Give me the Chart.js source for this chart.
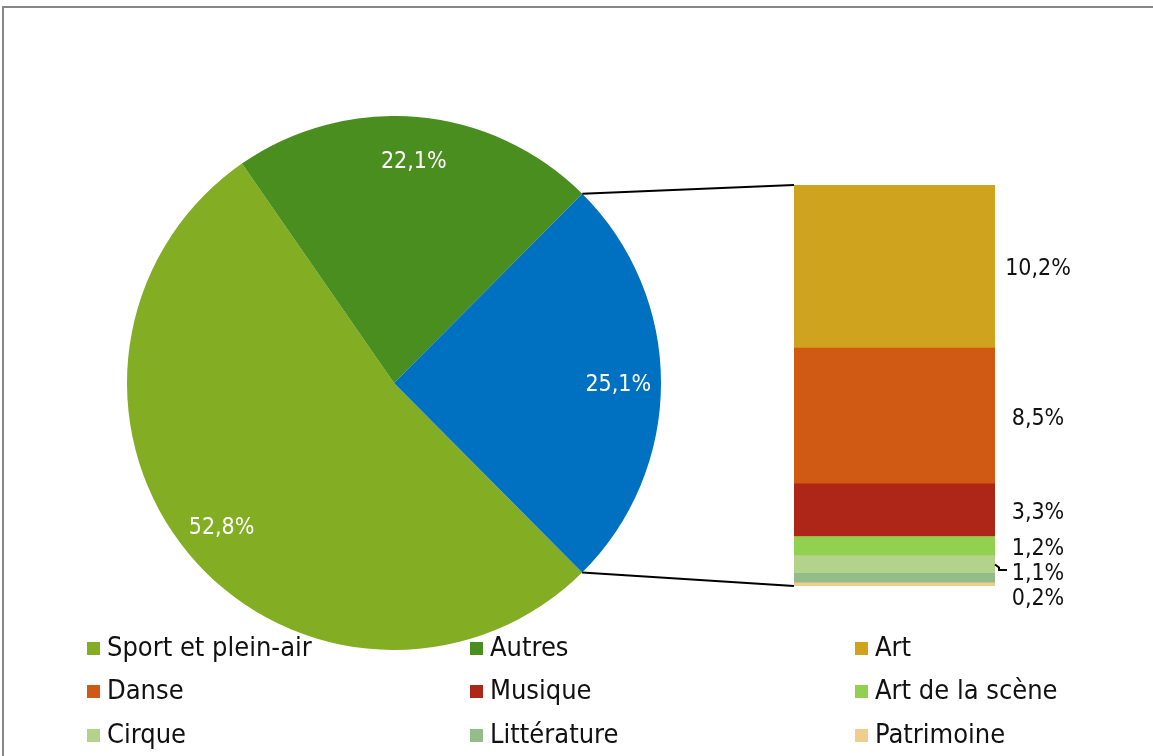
<!DOCTYPE html>
<html lang="fr">
<head>
  <meta charset="UTF-8" />
  <title>Répartition des activités</title>
  <script src="https://cdn.jsdelivr.net/npm/chart.js"></script>
  <style>
    body { margin: 0; background: #fff; overflow: hidden; font-family: "DejaVu Sans Condensed", "Liberation Sans Narrow", "DejaVu Sans", sans-serif; }
    #wrap { position: relative; width: 1153px; height: 756px; overflow: hidden; }
    #frame { position: absolute; left: 2px; top: 6px; width: 1170px; height: 780px; border: 2px solid #878787; }
    canvas { position: absolute; }
    #pie { left: 127px; top: 116px; }
    #bar { left: 794px; top: 185px; }
    #over { left: 0; top: 0; }
    #legend { position: absolute; left: 0; top: 0; width: 1153px; height: 756px; z-index: 5; pointer-events: none; }
    .item { position: absolute; font-size: 27px; color: #111; line-height: 30px; white-space: nowrap; }
    .item span { display: inline-block; width: 13px; height: 13px; margin-right: 7px; vertical-align: 1px; }
  </style>
</head>
<body>
<div id="wrap">
  <div id="frame"></div>
  <canvas id="pie" width="534" height="534"></canvas>
  <canvas id="bar" width="201" height="401"></canvas>
  <canvas id="over" width="1153" height="756"></canvas>
  <div id="legend"></div>
</div>

<script>
  // camembert principal
  const pieLabels = ["Sport et plein-air", "Autres", "Culture"];
  const pieValues = [52.8, 22.1, 25.1];
  const pieColors = ["#83ad23", "#4a8e1f", "#0070c0"];

  // détail de la part culture (barre empilée, du haut vers le bas)
  const barLabels = ["Art", "Danse", "Musique", "Art de la scène", "Cirque", "Littérature", "Patrimoine"];
  const barValues = [10.2, 8.5, 3.3, 1.2, 1.1, 0.6, 0.2];
  const barColors = ["#cfa31e", "#d05a14", "#ad2618", "#92d050", "#b3d38a", "#93bc8a", "#eecd8e"];
  const barShowLabel = [true, true, true, true, true, false, true];

  const legendNames = ["Sport et plein-air", "Autres", "Art", "Danse", "Musique", "Art de la scène", "Cirque", "Littérature", "Patrimoine"];
  const legendColors = [pieColors[0], pieColors[1]].concat(barColors);

  const fmt = v => v.toFixed(1).replace(".", ",") + "%";
  const labelFont = '23px "DejaVu Sans Condensed", "Liberation Sans Narrow", "DejaVu Sans", sans-serif';

  const pieLabelsPlugin = {
    id: "pieLabels",
    afterDatasetsDraw(chart) {
      const ctx = chart.ctx;
      const arcs = chart.getDatasetMeta(0).data;
      ctx.save();
      ctx.fillStyle = "#fff";
      ctx.font = labelFont;
      ctx.textAlign = "center";
      ctx.textBaseline = "middle";
      arcs.forEach((a, i) => {
        const mid = (a.startAngle + a.endAngle) / 2;
        const r = a.outerRadius * 0.84;
        ctx.fillText(fmt(pieValues[i]), a.x + Math.cos(mid) * r, a.y + Math.sin(mid) * r + 2);
      });
      ctx.restore();
    }
  };

  const pieChart = new Chart(document.getElementById("pie"), {
    type: "pie",
    data: {
      labels: pieLabels,
      datasets: [{ data: pieValues, backgroundColor: pieColors, borderWidth: 0 }]
    },
    options: {
      responsive: false,
      animation: false,
      rotation: 135.2,
      layout: { padding: 0 },
      plugins: { legend: { display: false }, tooltip: { enabled: false } }
    },
    plugins: [pieLabelsPlugin]
  });

  // pile : le premier jeu est en bas
  const stackOrder = barLabels.map((_, i) => i).reverse();
  const barChart = new Chart(document.getElementById("bar"), {
    type: "bar",
    data: {
      labels: [""],
      datasets: stackOrder.map(i => ({
        label: barLabels[i],
        data: [barValues[i]],
        backgroundColor: barColors[i],
        borderWidth: 0,
        barPercentage: 1,
        categoryPercentage: 1
      }))
    },
    options: {
      responsive: false,
      animation: false,
      layout: { padding: 0 },
      scales: {
        x: { stacked: true, display: false },
        y: { stacked: true, display: false, min: 0, max: barValues.reduce((s, v) => s + v, 0) }
      },
      plugins: { legend: { display: false }, tooltip: { enabled: false } }
    }
  });

  // lignes de liaison + étiquettes de la barre
  function drawOverlay() {
    const ctx = document.getElementById("over").getContext("2d");
    const pieBox = document.getElementById("pie");
    const barBox = document.getElementById("bar");
    const px = pieBox.offsetLeft, py = pieBox.offsetTop;
    const bx = barBox.offsetLeft, by = barBox.offsetTop;

    const blue = pieChart.getDatasetMeta(0).data[2];
    const p1 = { x: px + blue.x + Math.cos(blue.startAngle) * blue.outerRadius, y: py + blue.y + Math.sin(blue.startAngle) * blue.outerRadius };
    const p2 = { x: px + blue.x + Math.cos(blue.endAngle) * blue.outerRadius, y: py + blue.y + Math.sin(blue.endAngle) * blue.outerRadius };

    const bars = stackOrder.map((i, k) => ({ i, el: barChart.getDatasetMeta(k).data[0] }));
    const left = bx + bars[0].el.x - bars[0].el.width / 2;
    const right = bx + bars[0].el.x + bars[0].el.width / 2;
    const topBar = bars.find(b => b.i === 0).el;
    const botBar = bars.find(b => b.i === barLabels.length - 1).el;

    ctx.strokeStyle = "#000";
    ctx.lineWidth = 2;
    ctx.beginPath();
    ctx.moveTo(p1.x, p1.y); ctx.lineTo(left, by + topBar.y);
    ctx.moveTo(p2.x, p2.y); ctx.lineTo(left, by + botBar.base);
    ctx.stroke();

    ctx.font = labelFont;
    ctx.fillStyle = "#111";
    ctx.textAlign = "center";
    ctx.textBaseline = "middle";
    let prev = -Infinity;
    barLabels.forEach((name, i) => {
      if (!barShowLabel[i]) return;
      const el = bars.find(b => b.i === i).el;
      const mid = by + (el.y + el.base) / 2;
      const y = Math.max(mid, prev + 25);
      const shift = y - mid;
      if (shift > 4 && shift < 10) {
        ctx.lineWidth = 2;
        ctx.beginPath();
        ctx.moveTo(right, mid);
        ctx.lineTo(right + 4, mid + 3);
        ctx.lineTo(right + 4, y - 1);
        ctx.lineTo(right + 12, y - 1);
        ctx.stroke();
      }
      ctx.fillText(fmt(barValues[i]), right + 43, y + 3);
      prev = y;
    });
  }
  drawOverlay();

  // légende sur trois colonnes
  const colX = [87, 470, 855];
  const rowY = [632, 675, 719];
  const legend = document.getElementById("legend");
  legendNames.forEach((name, i) => {
    const d = document.createElement("div");
    d.className = "item";
    d.style.left = colX[i % 3] + "px";
    d.style.top = rowY[Math.floor(i / 3)] + "px";
    d.innerHTML = '<span style="background:' + legendColors[i] + '"></span>' + name;
    legend.appendChild(d);
  });
</script>
</body>
</html>
